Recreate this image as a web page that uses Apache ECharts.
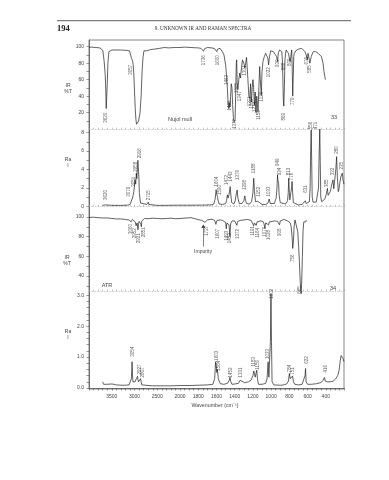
<!DOCTYPE html>
<html><head><meta charset="utf-8">
<script src="https://cdn.jsdelivr.net/npm/echarts@6/dist/echarts.min.js"></script>
<style>html,body{margin:0;padding:0;background:#fff}#c{width:389px;height:480px}</style>
</head><body><div id="c"></div>
<script>
// ---------- data ----------
const xTickLabels = [3500,3000,2500,2000,1800,1600,1400,1200,1000,800,600,400];
const irNujolTicks = [20,40,60,80,100];
const ramanTopTicks = [0,2,4,6,8];
const irAtrTicks = [40,60,80,100];
const ramanBottomTicks = [0,1,2,3];

const irNujol = [[4000,99],[3950,99.5],[3850,99],[3760,98.5],[3720,97.5],[3696,95.5],[3667,82],[3644,66],[3630,45],[3622,25],[3612,38],[3600,53],[3585,80],[3563,94],[3530,95.5],[3496,96],[3400,96],[3311,96],[3163,95.5],[3110,95],[3089,93.5],[3067,86],[3055,85],[3044,83],[3030,78],[3015,66],[3000,45],[2985,25],[2970,12],[2956,6],[2940,5.5],[2926,7],[2910,10],[2896,15],[2881,19],[2867,21],[2855,40],[2840,62],[2830,74],[2812,88],[2793,95],[2733,95],[2650,96.5],[2570,97],[2450,98],[2348,99],[2250,98.5],[2126,99],[2050,99],[2000,99],
[1950,99.5],[1880,99],[1800,98.5],[1771,98],[1752,97],[1742,94.5],[1732,97.5],[1700,99],[1650,98.5],[1620,97.5],[1605,95.5],[1597,94],[1588,97],[1561,98],[1536,94],[1518,90],[1500,78],[1489,64],[1481,50],[1474,35],[1465,25],[1458,32],[1452,27],[1445,40],[1438,55],[1430,50],[1423,30],[1415,15],[1408,8],[1402,7],[1396,12],[1390,40],[1383,80],[1378,84],[1373,55],[1365,48],[1355,60],[1345,68],[1336,62],[1325,75],[1315,84],[1307,86],[1300,80],[1289,74],[1280,80],[1270,87],[1264,85],[1255,60],[1245,40],[1235,37],[1226,55],[1217,33],[1208,50],[1200,60],[1192,50],[1184,29],[1175,45],[1166,20],[1158,40],[1150,30],[1144,21],[1135,50],[1126,76],[1119,60],[1108,41],[1100,70],[1090,82],[1075,88],[1060,92],[1046,92],[1036,86],[1028,78],[1018,88],[1005,95],[992,96],[975,94],[955,92],[940,88],[930,82],[920,93],[908,96],[895,95],[883,94],[875,80],[866,35],[861,28],[855,50],[848,85],[836,96],[822,94],[810,92],[800,86],[792,82],[785,88],[774,96],[768,70],[763,40],[758,60],[752,88],[745,92],[730,95],[720,96],[700,97],[665,98],[645,96],[629,94],[615,90],[604,84],[595,92],[588,90],[575,80],[567,78],[560,88],[538,94],[510,94],[484,92],[465,90],[448,88],[430,80],[420,70],[411,64],[405,60]];

const ramanTop = [[3700,0.1],[3660,0.1],[3635,0.15],[3622,0.35],[3610,0.12],[3500,0.1],[3300,0.1],[3150,0.12],[3100,0.2],[3080,0.45],[3067,0.6],[3055,0.5],[3044,0.9],[3030,1.1],[3015,1.6],[2990,2.9],[2975,2.4],[2960,3.6],[2950,3.0],[2935,4.2],[2926,5.0],[2917,4.8],[2905,3.2],[2895,1.5],[2880,0.8],[2867,0.35],[2840,0.3],[2800,0.28],[2760,0.3],[2730,0.2],[2710,0.35],[2696,0.46],[2685,0.2],[2650,0.12],[2500,0.1],[2300,0.1],[2100,0.12],[2000,0.12],[1880,0.12],[1750,0.13],[1660,0.15],[1630,0.25],[1615,0.8],[1604,1.8],[1598,1.3],[1590,1.06],[1582,0.6],[1570,0.25],[1536,0.2],[1500,0.3],[1490,0.6],[1481,1.24],[1472,0.9],[1462,1.3],[1450,2.14],[1442,1.2],[1433,0.4],[1410,0.25],[1395,0.6],[1380,1.5],[1373,1.78],[1365,0.9],[1350,0.3],[1336,0.25],[1320,0.3],[1300,0.6],[1289,1.13],[1280,0.6],[1270,0.3],[1250,0.25],[1235,0.25],[1215,0.5],[1200,1.5],[1191,3.05],[1183,1.6],[1172,0.5],[1160,0.4],[1147,0.55],[1137,0.7],[1128,0.4],[1100,0.2],[1060,0.2],[1035,0.35],[1021,0.8],[1010,0.3],[990,0.2],[965,0.3],[945,0.9],[936,2.0],[930,3.4],[925,2.8],[918,2.5],[912,1.2],[900,0.4],[880,0.25],[840,0.25],[820,0.6],[812,1.5],[807,3.05],[800,1.5],[795,0.7],[785,0.8],[776,2.0],[770,2.7],[764,1.5],[756,0.4],[740,0.2],[700,0.15],[660,0.2],[640,0.3],[625,0.6],[615,0.3],[595,0.4],[580,0.5],[572,2.0],[566,6.0],[560,8.3],[555,5.0],[549,1.0],[540,0.45],[520,0.35],[505,0.45],[490,0.5],[480,2.0],[472,6.0],[466,8.4],[461,5.0],[455,1.0],[445,0.5],[430,0.6],[410,0.8],[395,1.3],[382,1.96],[375,1.2],[365,1.05],[350,1.6],[338,2.2],[321,2.87],[312,1.9],[303,2.0],[290,4.0],[281,5.4],[273,3.2],[263,1.6],[255,1.9],[245,2.6],[235,3.2],[219,3.6],[210,2.8],[200,2.4]];

const irAtr = [[4000,99.5],[3900,99.8],[3800,99.3],[3700,99],[3600,99],[3500,98.5],[3400,98],[3300,98],[3200,97.5],[3120,97],[3090,96.5],[3075,95],[3067,93],[3058,96],[3045,97.5],[3010,96.5],[2985,95],[2965,91],[2952,89],[2943,94],[2935,93],[2924,87],[2915,92],[2900,95.5],[2875,95],[2862,93],[2851,90],[2840,96],[2820,98],[2780,98.5],[2700,98.3],[2600,98.8],[2500,98.5],[2400,98.2],[2300,98.5],[2200,98.8],[2100,98.3],[2000,98.5],[1880,99.3],[1840,98.3],[1800,97.3],[1760,96.5],[1740,95.5],[1727,94.5],[1715,96],[1700,97],[1650,97.8],[1620,96.5],[1607,92.5],[1595,96.5],[1560,97],[1535,96.5],[1500,94.5],[1493,88],[1485,94],[1475,95.5],[1462,92],[1453,80],[1445,93],[1430,96],[1400,96],[1385,95],[1377,91.5],[1368,95.5],[1340,96.5],[1300,97],[1260,97.5],[1220,96.5],[1200,95],[1191,91],[1184,94],[1175,96],[1164,91.5],[1155,95],[1140,96.5],[1120,96],[1090,95.5],[1078,93],[1070,88.5],[1060,94],[1045,95],[1028,92],[1020,95],[1000,96.5],[960,96],[930,95.5],[915,95],[908,92],[900,96],[880,97],[860,97.5],[840,97.5],[820,96],[800,96],[790,94],[780,90],[770,80],[763,68],[756,74],[748,90],[738,97],[728,98],[718,95],[708,85],[698,70],[690,55],[683,40],[676,26],[670,22],[664,35],[657,60],[650,85],[642,95],[630,96.5],[620,95],[612,97],[606,96]];

const ramanBottom = [[3700,0.2],[3690,0.25],[3680,0.12],[3660,0.18],[3640,0.1],[3620,0.12],[3580,0.1],[3500,0.13],[3450,0.12],[3400,0.1],[3300,0.09],[3200,0.09],[3120,0.1],[3090,0.15],[3070,0.3],[3060,0.6],[3054,0.85],[3046,0.5],[3035,0.2],[3010,0.15],[2990,0.2],[2960,0.3],[2935,0.38],[2927,0.39],[2915,0.2],[2900,0.17],[2880,0.25],[2867,0.3],[2855,0.2],[2840,0.1],[2800,0.08],[2600,0.07],[2400,0.07],[2200,0.07],[2000,0.08],[1900,0.08],[1800,0.09],[1700,0.1],[1640,0.12],[1620,0.3],[1610,0.85],[1603,0.9],[1596,0.5],[1590,0.6],[1580,0.3],[1560,0.14],[1520,0.12],[1480,0.15],[1460,0.25],[1452,0.35],[1445,0.22],[1430,0.12],[1400,0.13],[1360,0.15],[1340,0.25],[1331,0.31],[1320,0.2],[1290,0.17],[1250,0.2],[1220,0.25],[1200,0.4],[1190,0.55],[1183,0.6],[1175,0.35],[1165,0.3],[1158,0.58],[1150,0.3],[1140,0.12],[1100,0.12],[1060,0.15],[1045,0.3],[1033,0.85],[1025,0.35],[1015,0.3],[1008,1.5],[1002,3.05],[996,1.5],[990,0.2],[970,0.1],[900,0.09],[860,0.1],[830,0.13],[810,0.22],[800,0.47],[790,0.3],[775,0.25],[765,0.39],[755,0.2],[740,0.12],[700,0.1],[660,0.12],[640,0.18],[628,0.4],[622,0.63],[616,0.2],[600,0.12],[560,0.12],[500,0.14],[450,0.18],[430,0.25],[416,0.34],[405,0.22],[380,0.2],[350,0.2],[320,0.22],[290,0.3],[270,0.4],[255,0.55],[240,0.9],[232,1.05],[222,1.0],[210,0.95],[200,0.85]];

const irNujolLabels = [[3622,14,'3620'],[3085,72,'3057'],[1742,83.5,'1736'],[1590,83.5,'1600'],[1492,59.7,'1462'],[1452,28.6,'1439'],[1398,6.3,'1377'],[1375,50,'1365'],[1340,40,'1347'],[1293,71,'1301'],[1238,34,'1271'],[1215,31,'1248'],[1180,27,'1214'],[1137,17.2,'1150'],[1101,39.5,'1120'],[1028,69,'1022'],[930,79.8,'930'],[865,76,'888'],[862,15,'869'],[792,81,'809'],[763,34,'779'],[611,83,'676'],[575,73,'585']];
const ramanTopLabels = [[3622,1.23,'3620'],[3126,1.59,'3079'],[3015,2.68,'3051'],[2978,4.31,'2958'],[2889,5.76,'2916'],[2696,1.2,'2715'],[1601,2.69,'1604'],[1561,1.78,'1590'],[1489,2.87,'1472'],[1438,3.23,'1443'],[1365,3.41,'1376'],[1289,2.32,'1298'],[1191,4.13,'1188'],[1137,1.6,'1152'],[1021,1.6,'1033'],[930,4.79,'949'],[908,3.77,'934'],[810,3.77,'813'],[770,3.23,'776'],[625,1.87,'631'],[566,8.78,'556'],[507,8.78,'471'],[386,2.5,'385'],[321,3.77,'332'],[284,6.12,'280'],[223,4.4,'235']];
const irAtrLabels = [[3089,87.8,'3060'],[2993,83.4,'2952'],[2904,78.3,'2921'],[2793,84.4,'2851'],[1706,86.1,'1727'],[1590,83,'1607'],[1489,81,'1493'],[1452,78.3,'1453'],[1362,82.7,'1372'],[1198,85.8,'1191'],[1144,84,'1164'],[1075,85,'1070'],[1024,81.7,'1028'],[901,84.4,'908'],[767,58,'756'],[683,25.8,'665']];
const ramanBottomLabels = [[3037,1.17,'3054'],[2889,0.6,'2927'],[2815,0.5,'2867'],[1601,1.04,'1603'],[1575,0.72,'1584'],[1445,0.5,'1452'],[1329,0.5,'1331'],[1191,0.85,'1183'],[1144,0.75,'1156'],[1035,1.1,'1033'],[995,3.05,'1002'],[796,0.63,'784'],[760,0.55,'751'],[614,0.91,'622'],[404,0.62,'416']];
const impurityArrow = [[1745,69.8],[1745,92]];

// ---------- helpers ----------
const pos = w => w >= 2000 ? (4000 - w) / 2 : 1000 + (2000 - w);
const wOf = p => p <= 1000 ? 4000 - 2 * p : 2000 - (p - 1000);
const tickPos = []; for (let p = 0; p <= 2800; p += 50) tickPos.push(p);
const toXY = a => a.map(d => [pos(d[0]), d[1]]);
const toLbl = a => a.map(d => ({ value: [pos(d[0]), d[1]], name: d[2] }));
const range = (a, b, s) => { const r = []; for (let i = 0; a + i * s <= b + 1e-9; i++) r.push(+(a + i * s).toFixed(3)); return r; };

const FONT = 'Liberation Sans';
const AX = '#555', TXT = '#444', LINE = '#1e1e1e';

const gridL = 89, gridW = 255;
const grids = [
  { left: gridL, width: gridW, top: 40, height: 91 },
  { left: gridL, width: gridW, top: 128.1, height: 82.8 },
  { left: gridL, width: gridW, top: 211, height: 80 },
  { left: gridL, width: gridW, top: 291, height: 98 },
  { left: gridL, width: gridW, top: 40, height: 349, show: true, borderColor: '#666', borderWidth: 0.8, backgroundColor: 'transparent' }
];

const sepX = i => ({
  type: 'value', gridIndex: i, min: 0, max: 2800,
  axisLine: { show: true, lineStyle: { color: '#aaa', width: 0.6, type: [1, 2] } },
  axisTick: { show: true, customValues: tickPos, length: 1.5, inside: true, lineStyle: { color: '#999', width: 0.6 } },
  axisLabel: { show: false }, splitLine: { show: false }
});
const xAxes = [sepX(0), sepX(1), sepX(2), {
  type: 'value', gridIndex: 3, min: 0, max: 2800,
  axisLine: { show: true, lineStyle: { color: AX, width: 0.8 } },
  axisTick: { show: true, customValues: tickPos, length: 2.5, lineStyle: { color: AX, width: 0.6 } },
  axisLabel: { show: true, customValues: xTickLabels.map(pos), formatter: v => String(Math.round(wOf(v))), fontSize: 5, color: TXT, margin: 5, fontFamily: FONT },
  splitLine: { show: false }
}, { type: 'value', gridIndex: 4, min: 0, max: 2800, show: false }];

const yAx = (i, min, max, ticks, labels, fmt) => ({
  type: 'value', gridIndex: i, min, max,
  axisLine: { show: true, lineStyle: { color: AX, width: 0.8 } },
  axisTick: { show: true, customValues: ticks, length: 2.5, lineStyle: { color: AX, width: 0.6 } },
  axisLabel: { show: true, customValues: labels, formatter: fmt || (v => String(v)), fontSize: 5, color: TXT, margin: 5, fontFamily: FONT },
  splitLine: { show: false }
});
const yAxes = [
  yAx(0, -2.2, 108.1, range(10, 100, 10), irNujolTicks),
  yAx(1, -0.5, 8.5, range(0, 8, 1), ramanTopTicks),
  yAx(2, 24.7, 106.1, range(30, 100, 10), irAtrTicks),
  yAx(3, -0.032, 3.139, range(0, 3, 0.2), ramanBottomTicks, v => v.toFixed(1)),
  { type: 'value', gridIndex: 4, min: 0, max: 1, show: false }
];

const spec = (data, i) => ({
  type: 'line', xAxisIndex: i, yAxisIndex: i, data: toXY(data), showSymbol: false, symbol: 'none',
  clip: false, lineStyle: { color: LINE, width: 0.7 }, silent: true, animation: false
});
const lbl = (data, i) => ({
  type: 'scatter', xAxisIndex: i, yAxisIndex: i, data: toLbl(data), symbolSize: 0, clip: false, silent: true, animation: false,
  label: { show: true, formatter: '{b}', rotate: 90, position: 'inside', fontSize: 4.5, color: '#333', fontFamily: FONT }
});

const txt = (x, y, s, o) => ({ type: 'text', x, y, style: Object.assign({ text: s, fontSize: 5, fill: TXT, fontFamily: FONT, align: 'center', verticalAlign: 'middle' }, o || {}) });

const chart = echarts.init(document.getElementById('c'), null, { renderer: 'canvas' });
chart.setOption({
  backgroundColor: '#fff',
  animation: false,
  grid: grids,
  xAxis: xAxes,
  yAxis: yAxes,
  series: [
    spec(irNujol, 0), spec(ramanTop, 1), spec(irAtr, 2), spec(ramanBottom, 3),
    lbl(irNujolLabels, 0), lbl(ramanTopLabels, 1), lbl(irAtrLabels, 2), lbl(ramanBottomLabels, 3),
    { type: 'lines', coordinateSystem: 'cartesian2d', xAxisIndex: 2, yAxisIndex: 2, symbol: ['none', 'arrow'], symbolSize: 3.5,
      lineStyle: { color: '#333', width: 0.6, opacity: 1 }, silent: true, animation: false,
      data: [{ coords: impurityArrow.map(d => [pos(d[0]), d[1]]) }] }
  ],
  graphic: [
    { type: 'line', shape: { x1: 57, y1: 20.7, x2: 351, y2: 20.7 }, style: { stroke: '#333', lineWidth: 0.8 } },
    txt(57, 28.3, '194', { align: 'left', fontSize: 8.5, fontWeight: 'bold', fontFamily: 'Liberation Serif', fill: '#222' }),
    txt(203, 28.7, '9. UNKNOWN IR AND RAMAN SPECTRA', { fontSize: 5.2, fontFamily: 'Liberation Serif', fill: '#333' }),
    txt(68, 88.7, 'IR\n%T', { lineHeight: 6 }),
    txt(68, 163, 'Ra\nI', { lineHeight: 6 }),
    txt(67, 261, 'IR\n%T', { lineHeight: 6 }),
    txt(68, 335, 'Ra\nI', { lineHeight: 6 }),
    txt(180, 119, 'Nujol mull', { fontSize: 5.5 }),
    txt(334, 117, '33', { fontSize: 5.5 }),
    txt(107, 285.3, 'ATR', { fontSize: 5.5 }),
    txt(333, 288, '34', { fontSize: 5.5 }),
    txt(203, 252, 'Impurity', { fontSize: 5 }),
    txt(215, 405.5, 'Wavenumber (cm\u207B\u00B9)', { fontSize: 5.3 })
  ]
});
</script></body></html>
